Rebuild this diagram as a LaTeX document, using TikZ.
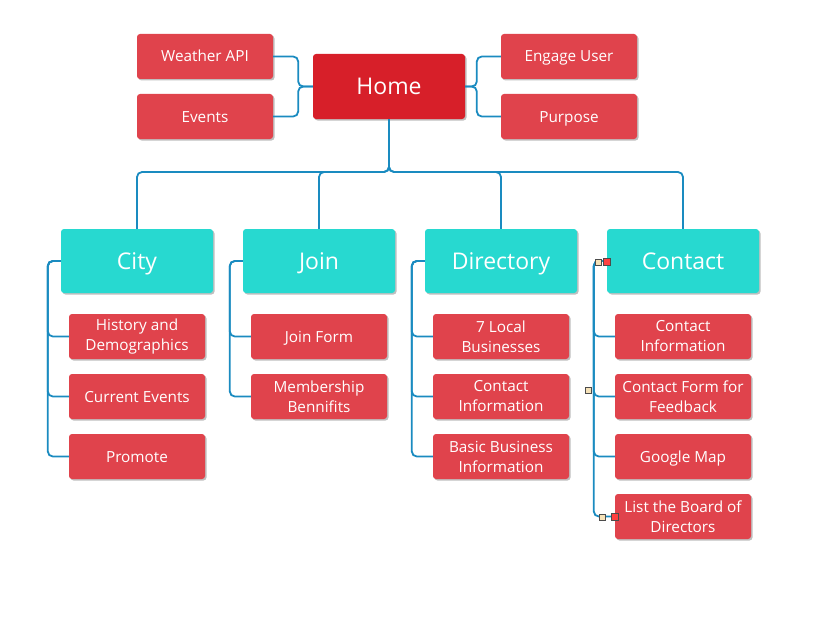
\documentclass[tikz,border=0pt]{standalone}
\usepackage{fontspec}
\setmainfont{Open Sans}
\usetikzlibrary{shadows}
\definecolor{evKirmizi}{HTML}{D71F29}
\definecolor{altKirmizi}{HTML}{E0434C}
\definecolor{turkuaz}{HTML}{27D9D0}
\definecolor{hatMavi}{HTML}{1A8BC0}
\definecolor{tutamacSari}{HTML}{F6E2B8}

\begin{document}
\begin{tikzpicture}[x=1pt,y=-1pt,
  kutu/.style={rounded corners=3pt,text=white,align=center,inner sep=0pt,
    drop shadow={shadow xshift=1.5pt,shadow yshift=-1.5pt,opacity=0.25,fill=black}},
  anasayfa/.style={kutu,fill=evKirmizi,minimum width=152pt,minimum height=65pt,
    font=\fontsize{23}{26}\selectfont,text height=16.5pt,text depth=0pt},
  baslik/.style={kutu,fill=turkuaz,minimum width=152pt,minimum height=64pt,
    font=\fontsize{23}{26}\selectfont,text height=16.5pt,text depth=0pt},
  sayfa/.style={kutu,fill=altKirmizi,minimum width=136pt,minimum height=45pt,font=\fontsize{15.3}{20}\selectfont},
  tek/.style={text height=11pt,text depth=0pt},
  hat/.style={draw=hatMavi,line width=1.8pt,rounded corners=5pt},
  tutamac/.style={draw=black!70,line width=0.6pt}]
\useasboundingbox (0,0) rectangle (817,626);
% ust kisim
\node[anasayfa] (home) at (389,86.5) {Home};
\node[sayfa,tek] (weather) at (205,56.5) {Weather API};
\node[sayfa,tek] (events) at (205,116.5) {Events};
\node[sayfa,tek] (engage) at (569,56.5) {Engage User};
\node[sayfa,tek] (purpose) at (569,116.5) {Purpose};
\draw[hat] (weather.east) -- ++(25,0) |- (home.west);
\draw[hat] (events.east) -- ++(25,0) |- (home.west);
\draw[hat] (engage.west) -- ++(-24,0) |- (home.east);
\draw[hat] (purpose.west) -- ++(-24,0) |- (home.east);
% ana dallar
\node[baslik] (city) at (137,261) {City};
\node[baslik] (join) at (319,261) {Join};
\node[baslik] (directory) at (501,261) {Directory};
\node[baslik] (contact) at (683,261) {Contact};
\coordinate (bus) at (389,172);
\foreach \b in {city,join,directory,contact}
  \draw[hat] (home.south) -- (bus) -| (\b.north);
% alt sayfalar
\node[sayfa] (history) at (137,336.5) {History and\\Demographics};
\node[sayfa,tek] (current) at (137,396.5) {Current Events};
\node[sayfa,tek] (promote) at (137,456.5) {Promote};
\node[sayfa,tek] (joinform) at (319,336.5) {Join Form};
\node[sayfa] (member) at (319,396.5) {Membership\\Bennifits};
\node[sayfa] (local) at (501,336.5) {7 Local\\Businesses};
\node[sayfa] (dirinfo) at (501,396.5) {Contact\\Information};
\node[sayfa] (basic) at (501,456.5) {Basic Business\\Information};
\node[sayfa] (coninfo) at (683,336.5) {Contact\\Information};
\node[sayfa] (feedback) at (683,396.5) {Contact Form for\\Feedback};
\node[sayfa,tek] (map) at (683,456.5) {Google Map};
\node[sayfa] (board) at (683,516.5) {List the Board of\\Directors};
\foreach \u/\c in {city/history,city/current,city/promote,join/joinform,join/member,
    directory/local,directory/dirinfo,directory/basic,
    contact/coninfo,contact/feedback,contact/map,contact/board}
  \draw[hat] (\u.west) -- ++(-13,0) |- (\c.west);
% secim tutamaclari
\draw[tutamac,fill=tutamacSari] (595,259) rectangle ++(6,6);
\draw[tutamac,fill=red!75] (603,258) rectangle ++(7,7);
\draw[tutamac,fill=tutamacSari] (585,387) rectangle ++(6,6);
\draw[tutamac,fill=tutamacSari] (599,514) rectangle ++(6,6);
\draw[tutamac,fill=red!75] (611,513) rectangle ++(7,7);
\end{tikzpicture}
\end{document}
